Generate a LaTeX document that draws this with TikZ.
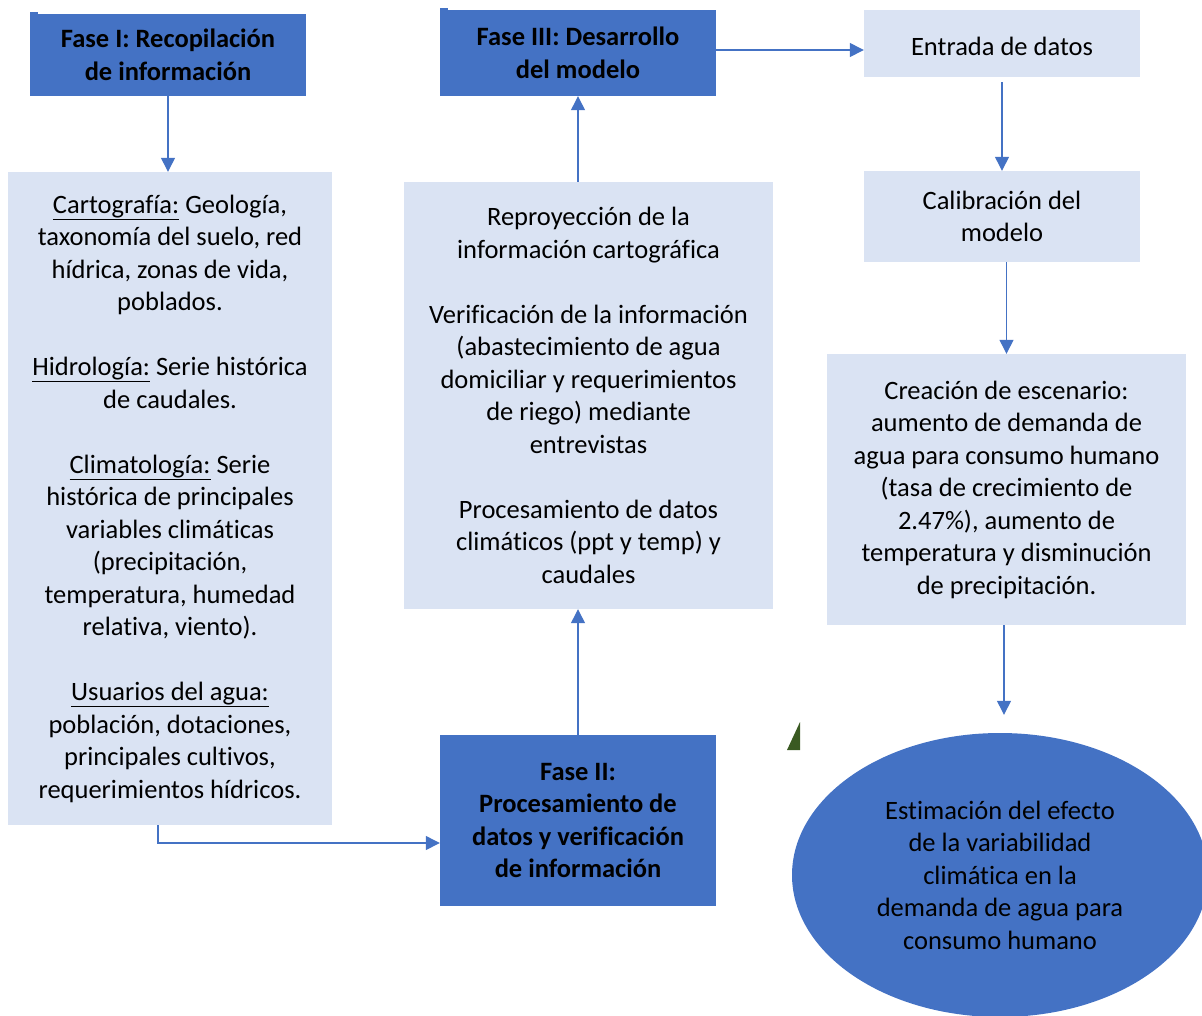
\documentclass[tikz,border=0pt]{standalone}
\usepackage{fontspec}
\setmainfont{Carlito}[Ligatures=NoCommon]
\usetikzlibrary{shapes.geometric,arrows.meta}
\definecolor{dblue}{HTML}{4472C4}
\definecolor{lblue}{HTML}{DAE3F3}
\definecolor{dgreen}{HTML}{3A5A22}
\tikzset{
  dark/.style={fill=dblue,draw=none,inner sep=0pt,align=center,font=\fontsize{26.5}{32.5}\selectfont\bfseries,execute at begin node={\rule{0pt}{24pt}}},
  light/.style={fill=lblue,draw=none,inner sep=0pt,align=center,font=\fontsize{26.5}{32.5}\selectfont,execute at begin node={\rule{0pt}{24pt}}},
  arr/.style={draw=dblue,line width=1.3pt,-{Triangle[length=14pt,width=14pt]}}
}
\begin{document}
\begin{tikzpicture}[x=1pt,y=-1pt]
\useasboundingbox (0,0) rectangle (1202,1015);
% Fase I
\node[dark,execute at begin node={\rule{0pt}{28pt}},minimum width=276,minimum height=82] (f1) at (168,55) {Fase I: Recopilación\\de información};
\fill[dblue] (30,12) rectangle (38,16);
% left box
\node[light,minimum width=324,minimum height=653] (left) at (170,498.5) {%
\underline{Cartografía:} Geología,\\taxonomía del suelo, red\\hídrica, zonas de vida,\\poblados.\\[32.5pt]%
\underline{Hidrología:} Serie histórica\\de caudales.\\[32.5pt]%
\underline{Climatología:} Serie\\histórica de principales\\variables climáticas\\(precipitación,\\temperatura, humedad\\relativa, viento).\\[32.5pt]%
\underline{Usuarios del agua:}\\población, dotaciones,\\principales cultivos,\\requerimientos hídricos.};
% Fase III
\node[dark,minimum width=276,minimum height=86] (f3) at (578,53) {Fase III: Desarrollo\\del modelo};
\fill[dblue] (440,8) rectangle (448,12);
% middle box
\node[light,minimum width=369,minimum height=427] (mid) at (588.5,395.5) {%
Reproyección de la\\información cartográfica\\[32.5pt]%
Verificación de la información\\(abastecimiento de agua\\domiciliar y requerimientos\\de riego) mediante\\entrevistas\\[32.5pt]%
Procesamiento de datos\\climáticos (ppt y temp) y\\caudales};
% Fase II
\node[dark,minimum width=276,minimum height=171] (f2) at (578,820.5) {Fase II:\\Procesamiento de\\datos y verificación\\de información};
% right column
\node[light,minimum width=276,minimum height=67] (ent) at (1002,43.5) {Entrada de datos};
\node[light,minimum width=276,minimum height=91] (cal) at (1002,216.5) {Calibración del\\modelo};
\node[light,minimum width=359,minimum height=271] (cre) at (1006.5,489.5) {%
Creación de escenario:\\aumento de demanda de\\agua para consumo humano\\(tasa de crecimiento de\\2.47\%), aumento de\\temperatura y disminución\\de precipitación.};
\node[ellipse,fill=dblue,draw=none,inner sep=0pt,minimum width=416,minimum height=284,align=center,font=\fontsize{26.5}{32.5}\selectfont,execute at begin node={\rule{0pt}{26pt}}] (est) at (1000,875) {%
Estimación del efecto\\de la variabilidad\\climática en la\\demanda de agua para\\consumo humano};
% green triangle
\fill[dgreen] (787,750) -- (800,750) -- (800,722) -- cycle;
% connectors
\draw[arr] (f1.south) -- (f1.south |- left.north);
\draw[arr] (f3.south |- mid.north) -- (f3.south);
\draw[arr] (f2.north) -- (f2.north |- mid.south);
\draw[arr] (f3.east |- 0,50) -- (ent.west |- 0,50);
\draw[arr,shorten <=5pt] (ent.south) -- (cal.north);
\draw[arr] (cre.north |- cal.south) -- (cre.north);
\draw[arr,shorten >=18pt] (cre.south -| 1004,0) -- (est.north -| 1004,0);
\coordinate (elb) at (158,843);
\draw[arr] (left.south -| elb) |- (f2.west |- elb);
\end{tikzpicture}
\end{document}
